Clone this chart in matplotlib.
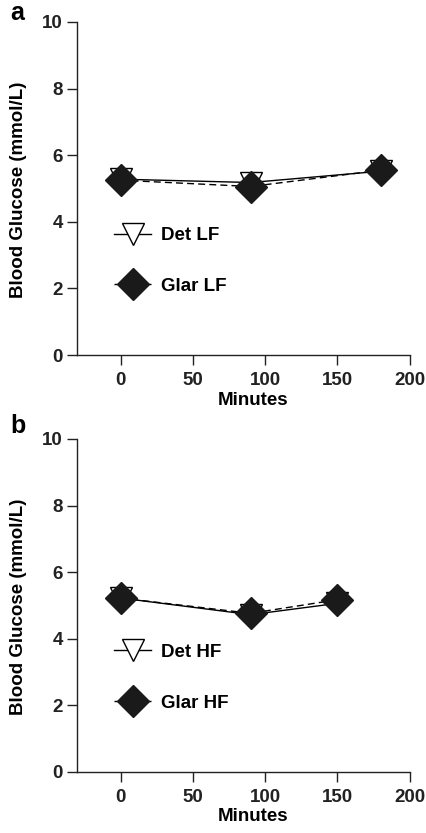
"""Blood glucose over time, two stacked panels (LF / HF)."""

import matplotlib.pyplot as plt

plt.rcParams['font.family'] = ['Liberation Sans', 'DejaVu Sans']
plt.rcParams['font.weight'] = 'bold'

# Panel a: low-fat meal
minutes_lf = [0, 90, 180]
det_lf = [5.28, 5.18, 5.52]
glar_lf = [5.25, 5.06, 5.55]

# Panel b: high-fat meal
minutes_hf = [0, 90, 150]
det_hf = [5.22, 4.72, 5.06]
glar_hf = [5.22, 4.76, 5.17]

x_ticks = [0, 50, 100, 150, 200]
y_ticks = [0, 2, 4, 6, 8, 10]


def draw_panel(ax, x, det, glar, det_label, glar_label):
    ax.plot(x, det, color='black', lw=1.0, ls='-', marker='v', ms=16,
            mfc='white', mec='black', mew=1.0, label=det_label, zorder=3)
    ax.plot(x, glar, color='black', lw=1.0, ls=(0, (5, 3)), marker='D', ms=16,
            mfc='#1a1a1a', mec='#1a1a1a', label=glar_label, zorder=4)

    ax.set_xlim(-30, 200)
    ax.set_ylim(0, 10)
    ax.set_xticks(x_ticks)
    ax.set_yticks(y_ticks)
    for s in ['top', 'right']:
        ax.spines[s].set_visible(False)
    for s in ['left', 'bottom']:
        ax.spines[s].set_linewidth(1.0)
        ax.spines[s].set_color('#222222')
    ax.tick_params(direction='out', length=7.2, width=1.0, labelsize=13.5,
                   colors='#222222')
    ax.tick_params(axis='x', pad=5)
    ax.tick_params(axis='y', pad=3)

    ax.set_xlabel('Minutes', fontsize=13.5, fontweight='bold')
    ax.xaxis.set_label_coords(0.528, -0.11)
    ax.set_ylabel('Blood Glucose (mmol/L)', fontsize=13.5, fontweight='bold')
    ax.yaxis.set_label_coords(-0.152, 0.495)

    leg = ax.legend(loc='upper left', bbox_to_anchor=(0.06, 0.435), frameon=False,
                    numpoints=1, fontsize=13.5, handlelength=2.0,
                    handletextpad=0.5, labelspacing=1.8)
    for t in leg.get_texts():
        t.set_fontweight('bold')


fig = plt.figure(figsize=(4.26, 8.33), dpi=100)
ax_a = fig.add_axes([0.181, 0.5738, 0.781, 0.3998])
ax_b = fig.add_axes([0.181, 0.0736, 0.781, 0.3994])

draw_panel(ax_a, minutes_lf, det_lf, glar_lf, 'Det LF', 'Glar LF')
draw_panel(ax_b, minutes_hf, det_hf, glar_hf, 'Det HF', 'Glar HF')

# panel letters
fig.text(0.0235, 0.976, 'a', fontsize=18, fontweight='bold', ha='left', va='baseline')
fig.text(0.0235, 0.4802, 'b', fontsize=18, fontweight='bold', ha='left', va='baseline')

fig.savefig('out.png', dpi=100)
